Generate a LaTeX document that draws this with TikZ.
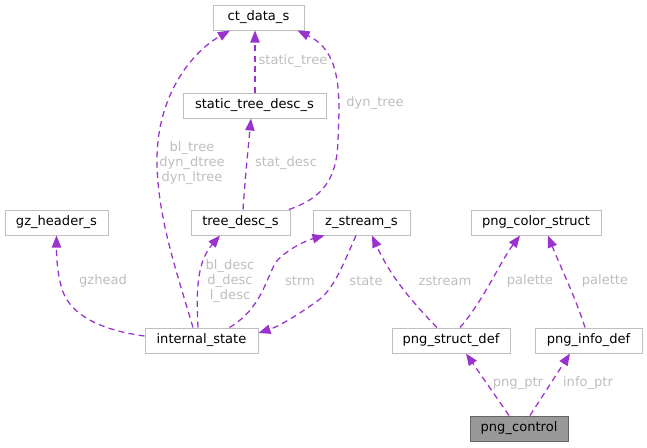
\documentclass[tikz,border=0pt]{standalone}
\usepackage{fontspec}
\setmainfont{DejaVu Sans}
\usetikzlibrary{arrows.meta,calc}
\definecolor{edgec}{HTML}{9A32CD}
\definecolor{labc}{HTML}{BEBEBE}
\definecolor{boxc}{HTML}{BFBFBF}
\definecolor{curfill}{HTML}{999999}
\definecolor{curdraw}{HTML}{666666}
\tikzset{
  box/.style={draw=boxc, line width=0.75pt, fill=white, inner sep=0pt, minimum height=18.75pt, font=\fontsize{9.8}{11}\selectfont, text=black},
  curbox/.style={box, draw=curdraw, fill=curfill},
  rel/.style={draw=edgec, line width=0.95pt, dash pattern=on 4.5pt off 3.2pt, -{Triangle[length=9pt,width=7pt]}},
  lab/.style={text=labc, font=\fontsize{9.8}{11}\selectfont, inner sep=0pt, align=center}
}
\begin{document}
\begin{tikzpicture}[x=0.75pt,y=-0.75pt]
\useasboundingbox (0,0) rectangle (647,447);
% nodes
\node[box, minimum width=68.25pt] (ct) at (258.5,17.5) {ct\_data\_s};
\node[box, minimum width=107.25pt] (std) at (254.5,105.5) {static\_tree\_desc\_s};
\node[box, minimum width=77.25pt] (gz) at (56.5,222.5) {gz\_header\_s};
\node[box, minimum width=74.25pt] (td) at (240.5,222.5) {tree\_desc\_s};
\node[box, minimum width=72.75pt] (zs) at (361.5,222.5) {z\_stream\_s};
\node[box, minimum width=97.5pt] (pcs) at (536,222.5) {png\_color\_struct};
\node[box, minimum width=84.75pt] (is) at (201.5,340.5) {internal\_state};
\node[box, minimum width=88.5pt] (psd) at (451,340.5) {png\_struct\_def};
\node[box, minimum width=80.25pt] (pid) at (588.5,340.5) {png\_info\_def};
\node[curbox, minimum width=73.5pt] (pc) at (519,428.5) {png\_control};
% edges
\draw[rel] ($(is.north)+(-8.5,0)$) .. controls (176,270) and (157,215) .. (157,160)
  .. controls (157,95) and (192,52) .. ($(ct.south)+(-28.5,0)$);
\draw[rel] ($(std.north)+(0.5,0)$) -- ($(ct.south)+(-3.5,0)$);
\draw[rel] ($(td.north)+(2.5,0)$) .. controls (245,180) and (248,150) .. ($(std.south)+(-3.5,0)$);
\draw[rel] ($(td.north east)+(-1.5,0)$) .. controls (322,198) and (337,180) .. (338,140)
  .. controls (340,95) and (342,52) .. ($(ct.south east)+(-7,0)$);
\draw[rel] ($(is.west)+(0,-4.5)$) .. controls (100,330) and (72,315) .. (63,292)
  .. controls (57,275) and (56.5,255) .. (gz.south);
\draw[rel] ($(is.north)+(-3.5,0)$) .. controls (196,290) and (197,262) .. ($(td.south)+(-20.5,0)$);
\draw[rel] ($(is.north)+(28,0)$) .. controls (262,308) and (266,278) .. (276,262)
  .. controls (288,248) and (308,240) .. ($(zs.south west)+(12,0)$);
\draw[rel] ($(zs.south)+(-5.5,0)$) .. controls (345,260) and (335,287) .. (320,299)
  .. controls (304,311) and (280,326) .. ($(is.east)+(0,-7.5)$);
\draw[rel] ($(psd.north)+(-14,0)$) .. controls (418,308) and (392,280) .. ($(zs.south)+(10.5,0)$);
\draw[rel] ($(psd.north)+(9,0)$) .. controls (484,300) and (500,262) .. ($(pcs.south)+(-16,0)$);
\draw[rel] ($(pid.north)+(-3.5,0)$) .. controls (575,296) and (560,266) .. ($(pcs.south)+(12,0)$);
\draw[rel] ($(pc.north)+(-10,0)$) -- ($(psd.south)+(15,0)$);
\draw[rel] ($(pc.north)+(11,0)$) -- ($(pid.south)+(-18.5,0)$);
% labels
\node[lab] (l1) at (192,163) {bl\_tree\\dyn\_dtree\\dyn\_ltree};
\node[lab] (l2) at (293,61) {static\_tree};
\node[lab] (l3) at (286,163) {stat\_desc};
\node[lab] (l4) at (375,103) {dyn\_tree};
\node[lab] (l5) at (103,281) {gzhead};
\node[lab] (l6) at (230,281) {bl\_desc\\d\_desc\\l\_desc};
\node[lab] (l7) at (300,281) {strm};
\node[lab] (l8) at (366,281) {state};
\node[lab] (l9) at (445,281) {zstream};
\node[lab] (l10) at (530,281) {palette};
\node[lab] (l11) at (605,281) {palette};
\node[lab] (l12) at (518,383) {png\_ptr};
\node[lab] (l13) at (588,383) {info\_ptr};
\end{tikzpicture}
\end{document}
